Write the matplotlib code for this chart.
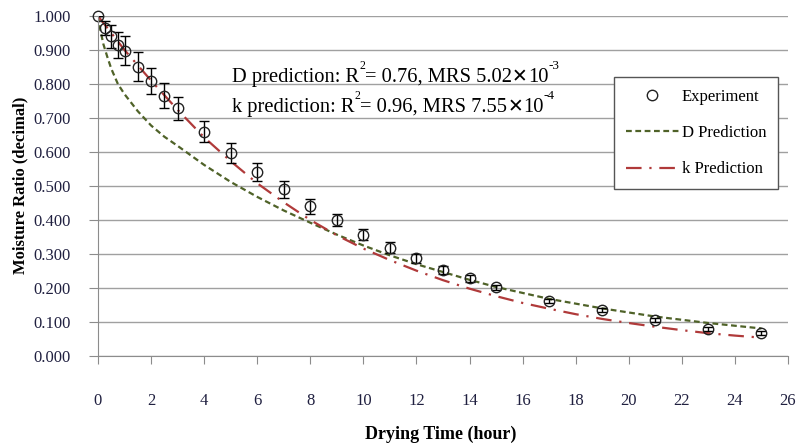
import matplotlib
matplotlib.use("Agg")
import matplotlib.pyplot as plt
from matplotlib.ticker import FormatStrFormatter

plt.rcParams['font.family'] = ['Liberation Serif', 'DejaVu Serif']

# Measured moisture ratio with standard deviation
time_exp = [0, 0.25, 0.5, 0.75, 1, 1.5, 2, 2.5, 3, 4, 5, 6, 7, 8, 9, 10,
            11, 12, 13, 14, 15, 17, 19, 21, 23, 25]
mr_exp = [1.000, 0.965, 0.940, 0.915, 0.898, 0.851, 0.810, 0.766, 0.728,
          0.660, 0.598, 0.541, 0.490, 0.441, 0.400, 0.357, 0.319, 0.287,
          0.253, 0.228, 0.202, 0.162, 0.135, 0.106, 0.080, 0.068]
mr_err = [0.0, 0.020, 0.035, 0.038, 0.042, 0.042, 0.038, 0.037, 0.035,
          0.030, 0.029, 0.027, 0.025, 0.022, 0.019, 0.016, 0.016, 0.014,
          0.011, 0.009, 0.007, 0.006, 0.006, 0.006, 0.005, 0.005]

# Diffusion-coefficient model prediction
time_d = [0, 0.1, 0.2, 0.35, 0.5, 0.75, 1, 1.5, 2, 2.5, 3, 4, 5, 6, 7, 8,
          9, 10, 11, 12, 13, 14, 15, 17, 19, 21, 23, 25]
mr_d = [1.000, 0.955, 0.918, 0.880, 0.845, 0.800, 0.770, 0.720, 0.678,
        0.645, 0.618, 0.562, 0.512, 0.468, 0.428, 0.392, 0.357, 0.325,
        0.296, 0.270, 0.247, 0.224, 0.203, 0.168, 0.140, 0.116, 0.097, 0.081]

# Drying-constant model prediction
time_k = [0, 1, 2, 3, 4, 5, 6, 7, 8, 9, 10, 11, 12, 13, 14, 15, 16, 17,
          18, 19, 20, 21, 22, 23, 24, 25]
mr_k = [1.000, 0.900, 0.810, 0.724, 0.643, 0.573, 0.508, 0.452, 0.400,
        0.355, 0.316, 0.282, 0.251, 0.223, 0.198, 0.176, 0.156, 0.139,
        0.123, 0.109, 0.097, 0.086, 0.076, 0.067, 0.060, 0.054]

x_ticks = [0, 2, 4, 6, 8, 10, 12, 14, 16, 18, 20, 22, 24, 26]
y_ticks = [0.0, 0.1, 0.2, 0.3, 0.4, 0.5, 0.6, 0.7, 0.8, 0.9, 1.0]

# Goodness-of-fit statements, one entry per model
fit_names = ['D prediction', 'k prediction']
fit_r2 = ['0.76', '0.96']
fit_mrs = ['5.02', '7.55']
fit_exp = ['-3', '-4']

W, H = 798, 446
fig = plt.figure(figsize=(W / 100, H / 100), dpi=100)
ax = fig.add_axes([98 / W, 1 - 356 / H, 690 / W, 340 / H])
ax.set_xlim(0, 26)
ax.set_ylim(0, 1.0)
ax.set_xticks(x_ticks)
ax.set_yticks(y_ticks)
ax.yaxis.set_major_formatter(FormatStrFormatter('%.3f'))
ax.grid(axis='y', color='#a0a0a0', lw=1.0)
ax.set_axisbelow(True)
for s in ['top', 'right']:
    ax.spines[s].set_visible(False)
for s in ['left', 'bottom']:
    ax.spines[s].set_color('#8c8c8c')
ax.tick_params(axis='both', direction='out', color='#8c8c8c',
               labelsize=12, labelcolor='#202040')
ax.tick_params(axis='x', length=5.8, pad=21)
ax.tick_params(axis='y', length=6.5, pad=13)

h_d, = ax.plot(time_d, mr_d, color='#4f6228', lw=1.6, dashes=(2.6, 1.6),
               label='D Prediction')
h_k, = ax.plot(time_k, mr_k, color='#b03a3a', lw=1.6, dashes=(7, 3.5, 1, 3.5),
               label='k Prediction')
ax.errorbar(time_exp, mr_exp, yerr=mr_err, fmt='none', ecolor='black',
            elinewidth=1, capsize=3.5, capthick=1)
h_e, = ax.plot(time_exp, mr_exp, ls='none', marker='o', ms=7.5, mfc='none',
               mec='#222222', mew=1, label='Experiment', clip_on=False)

leg = ax.legend(handles=[h_e, h_d, h_k], loc='upper left',
                bbox_to_anchor=(614 / W, 1 - 77 / H),
                bbox_transform=fig.transFigure, borderaxespad=0,
                fontsize=12, frameon=True, fancybox=False, framealpha=1,
                edgecolor='#555555', handlelength=3.2, handletextpad=0.15,
                labelspacing=1.22, borderpad=0.7)
leg.get_frame().set_linewidth(1.0)

fig.text(441 / W, 1 - 434 / H, 'Drying Time (hour)', fontsize=13,
         fontweight='bold', ha='center', va='center')
fig.text(20 / W, 1 - 185 / H, 'Moisture Ratio (decimal)', fontsize=12,
         fontweight='bold', ha='center', va='center', rotation=90)

# Fit statistics: main text with raised exponents, laid out piece by piece
renderer = fig.canvas.get_renderer()


def text_run(x_px, base_px, pieces):
    for s, size, rise, fam in pieces:
        t = fig.text(x_px / W, 1 - (base_px - rise) / H, s, fontsize=size,
                     ha='left', va='baseline', family=fam)
        x_px = t.get_window_extent(renderer).x1


serif = ['Liberation Serif', 'DejaVu Sans']
cross = ['DejaVu Sans']
for i, base in enumerate([82, 112]):
    text_run(232, base, [
        (fit_names[i] + ': R', 14.8, 0, serif),
        ('2', 8.5, 13, serif),
        ('= ' + fit_r2[i] + ', MRS ' + fit_mrs[i], 14.8, 0, serif),
        ('\u2715', 13.5, 0, cross),
        ('10', 14.8, 0, serif),
        (fit_exp[i], 9.5, 13, serif),
    ])

fig.savefig('out.png', dpi=100)
